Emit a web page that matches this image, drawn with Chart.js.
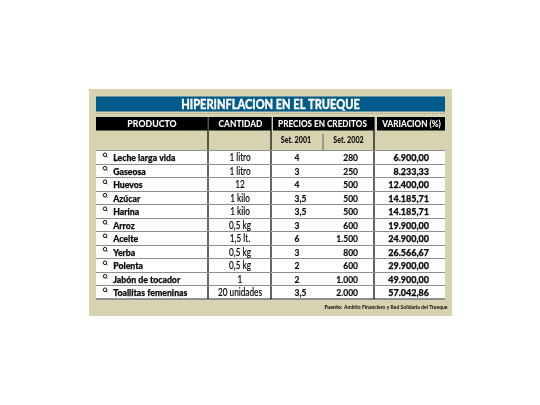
<!DOCTYPE html>
<html><head><meta charset="utf-8">
<style>html,body{margin:0;padding:0;background:#fff}canvas{display:block}</style>
<script src="https://cdn.jsdelivr.net/npm/chart.js@4"></script></head>
<body><canvas id="c" width="540" height="405"></canvas>
<script>
const title = "HIPERINFLACION EN EL TRUEQUE";
const headers = ["PRODUCTO","CANTIDAD","PRECIOS EN CREDITOS","VARIACION (%)"];
const subHeaders = ["Set. 2001","Set. 2002"];
const source = ["Fuente:","Ambito Financiero y Red Solidaria del Trueque"];
const products = ["Leche larga vida","Gaseosa","Huevos","Azúcar","Harina","Arroz","Aceite","Yerba","Polenta","Jabón de tocador","Toallitas femeninas"];
const quantities = ["1 litro","1 litro","12","1 kilo","1 kilo","0,5 kg","1,5 lt.","0,5 kg","0,5 kg","1","20 unidades"];
const prices2001 = ["4","3","4","3,5","3,5","3","6","3","2","2","3,5"];
const prices2002 = ["280","250","500","500","500","600","1.500","800","600","1.000","2.000"];
const variation = ["6.900,00","8.233,33","12.400,00","14.185,71","14.185,71","19.900,00","24.900,00","26.566,67","29.900,00","49.900,00","57.042,86"];
const tableSpan = [0,349];

const PANEL="#d7d3b1", BLUE="#005a8a", INK="#0a0a0a";
function txt(ctx,s,x,y,o){
  ctx.save();
  ctx.font=`${o.w||700} ${o.size}px ${o.fam||'Lato'}`;
  ctx.fillStyle=o.color||INK;
  ctx.textBaseline="middle";ctx.textAlign="left";
  const m=ctx.measureText(s).width, k=o.k||1, w=m*k;
  let left=x; if(o.align==="center")left=x-w/2; if(o.align==="right")left=x-w;
  ctx.translate(left,y);ctx.scale(k,1);
  if(o.stroke){ctx.strokeStyle=ctx.fillStyle;ctx.lineWidth=o.stroke;ctx.strokeText(s,0,0);}
  ctx.fillText(s,0,0);
  ctx.restore();
}
const tablePlugin={id:"tablePlugin",
 beforeDraw(ch){
  const c=ch.ctx,X=v=>ch.scales.x.getPixelForValue(v);
  c.fillStyle="#fff";c.fillRect(0,0,540,405);
  c.fillStyle=PANEL;c.fillRect(89,89,363,227);
  c.fillStyle=BLUE;c.fillRect(X(0),96.5,349,15);
  c.fillStyle="#000";
  [[0,111.5],[113,175],[177,278],[281,349]].forEach(r=>c.fillRect(X(r[0]),117,r[1]-r[0],13.5));
  c.save();c.strokeStyle="#a9a88a";c.setLineDash([1,1]);c.lineWidth=1;
  c.beginPath();c.moveTo(X(0),113.5);c.lineTo(X(349),113.5);c.stroke();c.restore();
 },
 afterDatasetsDraw(ch){
  const c=ch.ctx,X=v=>ch.scales.x.getPixelForValue(v),Y=v=>ch.scales.y.getPixelForValue(v);
  const top=ch.chartArea.top,bot=ch.chartArea.bottom;
  c.save();c.strokeStyle="#8f9079";c.setLineDash([1,1]);c.lineWidth=1;
  c.beginPath();c.moveTo(X(0),top);c.lineTo(X(349),top);c.stroke();c.restore();
  c.fillStyle="#222";c.fillRect(X(0),bot-0.5,349,1.3);
  c.fillStyle="#000";
  [112,175,278].forEach(v=>c.fillRect(X(v)-0.6,117,1.2,bot-117));
  c.fillStyle="#555";c.fillRect(X(227)-0.4,134,0.9,top-134);
  txt(c,title,270.5,104.5,{size:13,color:"#fff",w:900,k:0.85,align:"center",stroke:.3});
  const hx=[56,144.5,226.5,315.5], hk=[.92,.88,.86,.86];
  headers.forEach((h,i)=>txt(c,h,X(hx[i]),124,{size:9.5,color:"#fff",w:900,k:hk[i],align:"center"}));
  txt(c,subHeaders[0],X(200),140.5,{size:8.5,w:900,k:.84,align:"center"});
  txt(c,subHeaders[1],X(252.5),140.5,{size:8.5,w:900,k:.84,align:"center"});
  products.forEach((p,i)=>{
   const y=Y(i), ty=y+0.8;
   c.save();c.strokeStyle="#111";c.lineWidth=1;c.beginPath();
   c.arc(X(9),y-2.5,1.8,0,Math.PI*2);c.moveTo(X(10.2),y-1.3);c.lineTo(X(11.5),y-0.2);c.stroke();c.restore();
   txt(c,p,X(17.2),ty,{size:10,w:900,k:.87,stroke:.25});
   txt(c,quantities[i],X(144),ty,{size:10.5,w:500,k:.78,align:"center",stroke:.15});
   txt(c,prices2001[i],X(198.5),ty,{size:10,w:700,k:.85,stroke:.2});
   txt(c,prices2002[i],X(262),ty,{size:10,w:700,k:.85,align:"right",stroke:.2});
   txt(c,variation[i],X(333),ty,{size:10,w:900,k:.9,align:"right",stroke:.25});
  });
  txt(c,source[0],324.5,307.7,{size:5.5,w:900,k:.95});
  txt(c,source[1],344,307.7,{size:5.5,w:700,k:.92});
 }};
new Chart(document.getElementById("c"),{
 type:"bar",
 data:{labels:products.map((_,i)=>i),datasets:[{
   data:products.map(()=>tableSpan),backgroundColor:"#fff",borderWidth:0,
   barPercentage:1,categoryPercentage:1}]},
 plugins:[tablePlugin],
 options:{indexAxis:"y",responsive:false,animation:false,devicePixelRatio:1,
  layout:{padding:{left:96,right:95,top:150.5,bottom:106}},
  plugins:{legend:{display:false},tooltip:{enabled:false},title:{display:false}},
  scales:{
   x:{type:"linear",min:0,max:349,display:false},
   y:{type:"category",offset:true,position:"left",border:{display:false},
      ticks:{display:false},
      grid:{z:1,color:"#8e8e8e",lineWidth:1,drawTicks:false,offset:true}}
  }}
});
</script></body></html>
